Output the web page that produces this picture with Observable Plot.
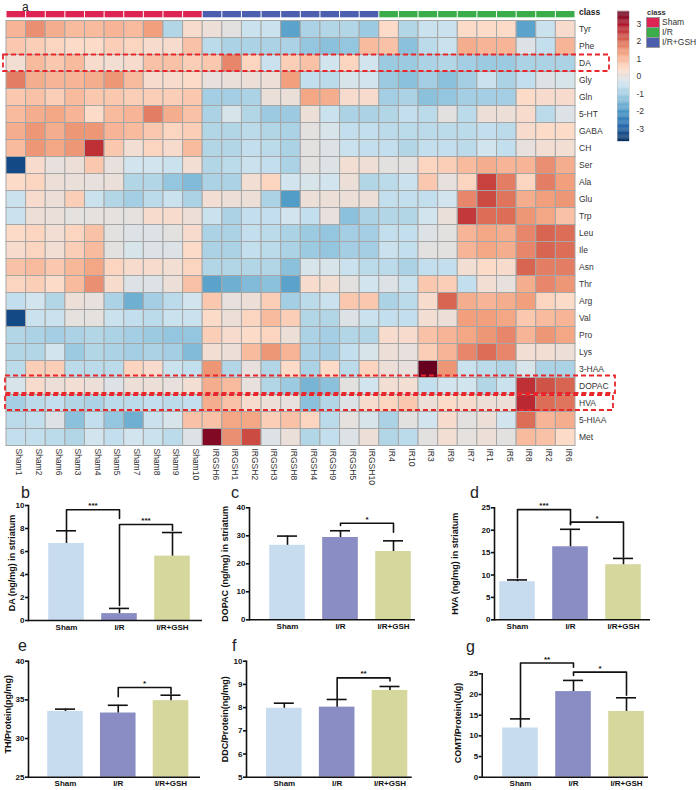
<!DOCTYPE html>
<html><head><meta charset="utf-8">
<script src="https://cdn.jsdelivr.net/npm/d3@7"></script>
<script src="https://cdn.jsdelivr.net/npm/@observablehq/plot@0.6"></script>
<style>
body{margin:0;background:#fff;font-family:"Liberation Sans",Arial,Helvetica,sans-serif;}
#root{position:relative;width:700px;height:790px;overflow:hidden;background:#fff;}
.letter{position:absolute;font-size:16px;line-height:18px;color:#222;}
.bar line,.bar path{stroke-width:1.6px;}
.leg{position:absolute;font-size:8px;color:#333;line-height:10px;}
.sw{position:absolute;width:12px;height:9px;border:0.5px solid #999;}
</style></head><body><div id="root"></div>
<script>
const FONT = '"Liberation Sans", Arial, Helvetica, sans-serif';

// ---------- heatmap data ----------
const cols = ["Sham1","Sham2","Sham6","Sham3","Sham4","Sham5","Sham7","Sham8","Sham9","Sham10",
  "IRGSH6","IRGSH1","IRGSH2","IRGSH3","IRGSH8","IRGSH4","IRGSH9","IRGSH5","IRGSH10",
  "IR4","IR10","IR3","IR9","IR7","IR1","IR5","IR8","IR2","IR6"];
const rows = ["Tyr","Phe","DA","Gly","Gln","5-HT","GABA","CH","Ser","Ala","Glu","Trp","Leu","Ile",
  "Asn","Thr","Arg","Val","Pro","Lys","3-HAA","DOPAC","HVA","5-HIAA","Met"];
const heat = [
/*Tyr*/ [1.0,1.5,1.1,0.9,0.9,1.0,0.9,1.3,-0.8,0.3, 0.1,-0.1,-0.5,-0.5,-1.8,-0.9,-0.8,-0.8,-1.1, 0.4,-0.8,-0.5,-0.5,0.4,0.4,0.4,-1.8,-0.5,0.3],
/*Phe*/ [0.7,0.6,0.5,0.4,0.4,0.6,0.5,0.3,0.3,0.8, -0.7,-0.9,-0.9,-0.9,-0.9,-1.2,-1.3,-1.2,0.9, 0.8,-1.3,-0.7,-0.5,1.1,1.0,1.0,-0.2,-0.6,1.0],
/*DA*/  [0.2,0.9,0.7,0.9,0.3,0.2,0.3,0.8,0.8,0.6, 0.7,1.6,0.5,-0.5,0.6,0.8,-0.4,0.5,-0.4, -1.1,-1.1,-0.9,-0.8,-1.0,-1.1,-1.1,-0.9,-0.9,-0.9],
/*Gly*/ [1.7,1.1,1.0,1.0,1.1,1.4,0.9,0.3,0.3,0.4, 0.0,0.05,0.1,0.1,1.3,-0.6,-0.7,-0.3,-0.4, -1.1,-1.3,-1.0,-1.3,-1.0,-0.5,-0.9,-0.6,-0.2,-0.3],
/*Gln*/ [0.7,0.8,0.6,0.9,0.7,0.7,0.6,0.6,0.6,0.7, -1.0,-1.0,-0.9,0.05,0.05,1.2,1.1,0.3,0.3, -1.0,-0.9,-1.3,-1.2,-1.0,-1.0,-1.0,0.4,0.3,0.3],
/*5-HT*/[0.9,1.1,1.2,1.0,0.4,0.9,1.0,1.7,1.1,0.8, -0.9,-0.3,-0.8,-1.1,-1.1,0.1,-0.5,-0.9,-0.9, -0.8,-0.6,-0.7,-0.1,-0.7,0.1,0.1,0.3,-0.7,-0.2],
/*GABA*/[1.1,1.4,1.1,1.4,1.4,1.0,0.9,0.7,0.5,0.6, -0.8,-0.8,-0.7,-0.8,-0.9,-0.1,-0.3,-0.6,-0.6, -0.7,-0.7,-0.7,-0.7,-0.7,-0.6,-0.7,0.3,0.4,0.4],
/*CH*/  [0.9,1.4,1.2,1.4,2.6,0.7,0.2,0.5,0.3,0.9, -0.8,-0.8,-0.6,-0.7,-0.9,-0.1,-0.2,-0.5,-0.6, -0.6,-0.8,-0.6,-0.6,-0.7,-0.4,-0.6,0.0,0.2,0.2],
/*Ser*/ [-3.3,0.3,0.0,0.1,0.7,0.0,-0.4,-0.4,-0.5,0.2, -0.8,-0.7,-0.5,-0.6,-0.9,-0.1,-0.2,0.2,0.15, -0.1,-0.1,0.5,0.6,0.9,1.1,1.0,1.0,1.5,1.1],
/*Ala*/ [0.4,0.5,0.1,0.05,0.0,0.05,-0.8,-0.8,-1.2,-1.4, -0.9,-0.9,0.2,0.5,-0.4,-0.3,-0.4,0.1,-0.8, -0.7,-0.5,0.7,0.0,0.5,2.4,1.7,0.5,1.7,1.3],
/*Glu*/ [-0.5,0.3,0.1,0.6,-0.5,-0.8,-1.0,-0.7,-0.5,-0.9, 0.2,0.1,0.1,-0.9,-1.9,0.1,0.1,0.1,0.1, -0.6,-0.6,-0.6,-0.4,1.6,2.3,1.8,1.1,1.3,1.4],
/*Trp*/ [-0.5,0.1,0.05,-0.05,-0.05,-0.05,-0.05,0.3,0.3,0.1, -0.5,-0.9,-0.6,-0.6,-0.4,-0.6,0.0,-1.3,-0.9, -0.8,-0.8,-0.4,0.05,2.5,1.9,1.9,1.4,1.2,0.8],
/*Leu*/ [0.4,0.5,0.2,0.5,0.8,-0.1,-0.2,-0.2,-0.1,0.3, -0.9,-0.9,-0.6,-0.7,-0.9,-1.1,-1.2,-1.0,-1.0, -0.6,-0.6,-0.2,-0.1,1.0,1.2,1.1,1.6,2.0,1.9],
/*Ile*/ [0.3,0.5,0.2,0.6,0.9,-0.1,-0.3,-0.2,-0.2,0.4, -0.9,-0.9,-0.6,-0.7,-0.9,-1.1,-1.2,-1.0,-1.0, -0.5,-0.6,-0.1,-0.1,1.0,1.2,1.1,1.6,2.0,1.9],
/*Asn*/ [0.8,0.9,0.7,0.95,1.2,0.5,0.3,0.3,0.2,0.5, -0.8,-0.8,-0.8,-0.8,-1.3,-0.3,-0.3,-0.5,-0.7, -0.7,-0.9,-0.6,-0.6,0.2,0.4,0.3,2.0,1.7,1.7],
/*Thr*/ [0.5,0.6,0.4,0.9,1.5,0.3,-0.2,-0.2,0.1,0.8, -1.8,-1.6,-1.4,-1.3,-1.8,0.3,0.2,-0.1,-0.4, -0.2,-0.5,0.7,0.6,-0.6,0.2,0.0,1.1,1.6,1.4],
/*Arg*/ [-0.6,-0.4,-0.8,0.1,0.0,-0.9,-1.6,-1.0,-0.7,-0.4, 0.7,0.0,0.1,0.6,-1.0,-0.7,-0.5,0.7,0.7, -0.9,-0.7,0.3,2.0,1.1,1.0,1.1,1.3,0.5,0.4],
/*Val*/ [-3.3,-0.5,-0.5,-0.05,-0.05,-0.5,-0.6,-0.7,-0.5,-0.5, 0.4,0.1,0.5,0.9,0.6,-0.8,-0.8,-0.2,-0.5, -0.6,-0.6,0.2,0.1,1.3,1.3,1.2,0.7,0.9,1.0],
/*Pro*/ [-0.8,-0.9,-1.0,-0.9,-0.8,-0.9,-1.0,-1.1,-1.2,-1.2, 0.6,0.3,0.4,0.5,0.1,-0.9,-1.0,-0.8,-0.8, 0.3,0.3,0.8,1.0,1.2,1.4,1.6,1.0,1.4,1.2],
/*Lys*/ [-0.8,-0.8,-0.4,-1.1,-0.8,-0.9,-1.0,-0.9,-1.0,-1.4, 0.2,0.1,0.9,1.4,1.0,-0.9,-1.0,-0.6,-0.3, 0.1,0.0,0.6,1.0,1.6,1.9,1.6,0.2,0.2,0.1],
/*3-HAA*/[-0.7,0.6,0.6,-0.7,-0.7,-0.7,0.5,0.3,-0.5,-0.6, 1.4,-0.8,0.0,-0.8,0.4,-0.9,0.4,-0.7,0.5, 0.1,0.0,3.7,1.4,-0.5,-0.7,-0.8,-0.3,-0.9,-0.9],
/*DOPAC*/[-0.3,0.3,0.1,0.2,0.1,-0.2,0.1,0.1,0.0,0.2, 1.1,0.9,0.0,-0.8,-1.1,-1.5,-1.3,-0.1,-0.4, 0.2,0.2,-0.6,-0.4,-0.4,-0.8,-0.5,2.6,2.2,2.0],
/*HVA*/ [-1.0,-0.7,-0.6,-0.8,-0.9,-0.7,-0.7,-0.6,-0.7,-0.6, 1.1,0.8,0.3,0.1,0.0,-1.3,-0.8,-0.2,0.3, 0.5,0.7,0.1,0.4,0.3,0.1,0.1,2.7,1.9,1.8],
/*5-HIAA*/[-0.7,-0.6,-0.2,-1.3,-0.6,-1.2,-1.6,-0.5,-0.3,0.8, 0.8,1.2,1.2,0.6,0.8,0.5,-0.7,-0.05,-0.3, -0.9,-0.1,-0.4,0.3,-0.1,0.1,-0.4,1.9,1.0,1.1],
/*Met*/ [-0.6,-0.6,-0.7,-0.8,-0.4,-0.6,-0.4,-0.5,-0.7,-0.2, 3.4,1.5,2.3,-0.2,0.05,-0.8,-0.6,-0.2,0.1, -0.8,-0.7,-0.1,0.2,-0.05,0.1,-0.1,0.9,0.8,0.4]
];
const classNames = ["Sham","I/R","I/R+GSH"];
const classColors = ["#dc2454","#3aad4a","#4b5fae"];
const classOf = c => c.startsWith("Sham") ? "Sham" : c.startsWith("IRGSH") ? "I/R+GSH" : "I/R";
const boxedRows = ["DA","DOPAC","HVA"];
const legendTicks = [-3,-2,-1,0,1,2,3];

// ---------- bar chart data ----------
const groups = ["Sham","I/R","I/R+GSH"];
const groupColors = ["#c8dcf0","#8a8dc3","#d6d79c"];
const daMean = [6.7, 0.6, 5.6],      daSD = [1.1, 0.45, 2.05];
const dopacMean = [26.6, 29.4, 24.4], dopacSD = [3.3, 2.4, 3.8];
const hvaMean = [8.5, 16.3, 12.3],    hvaSD = [0.4, 3.9, 1.4];
const thMean = [33.5, 33.3, 34.9],    thSD = [0.3, 1.0, 0.7];
const ddcMean = [7.97, 8.02, 8.74],   ddcSD = [0.22, 0.33, 0.17];
const comtMean = [11.9, 20.7, 15.9],  comtSD = [2.2, 2.7, 3.3];
const daSig = [{a:"Sham",b:"I/R",y:9.63,ya:7.9,yb:8.87,label:"***"},{a:"I/R",b:"I/R+GSH",y:8.35,ya:1.3,yb:7.83,label:"***"}];
const dopacSig = [{a:"I/R",b:"I/R+GSH",y:34.5,ya:33.7,yb:31.3,label:"*"}];
const hvaSig = [{a:"Sham",b:"I/R",y:24.6,ya:9.4,yb:21.4,label:"***"},{a:"I/R",b:"I/R+GSH",y:21.8,ya:21.2,yb:14.0,label:"*"}];
const thSig = [{a:"I/R",b:"I/R+GSH",y:36.6,ya:35.4,yb:35.8,label:"*"}];
const ddcSig = [{a:"I/R",b:"I/R+GSH",y:9.28,ya:8.38,yb:9.15,label:"**"}];
const comtSig = [{a:"Sham",b:"I/R",y:27.6,ya:14.1,yb:26.6,label:"**"},{a:"I/R",b:"I/R+GSH",y:25.4,ya:24.6,yb:19.8,label:"*"}];

// ---------- helpers ----------
const root = document.getElementById("root");
function place(node, left, top) {
  node.style.position = "absolute"; node.style.left = left + "px"; node.style.top = top + "px";
  root.appendChild(node); return node;
}
function html(cls, text, left, top, extra = {}) {
  const d = document.createElement("div"); d.className = cls; d.textContent = text;
  Object.assign(d.style, extra); return place(d, left, top);
}
const rdbu10 = ["#053061","#2166AC","#4393C3","#92C5DE","#D1E5F0","#FDDBC7","#F4A582","#D6604D","#B2182B","#67001F"];
const heatInterp = d3.piecewise(d3.interpolateRgb, rdbu10);
const colorScale = {type: "linear", domain: [-3.7, 3.7], interpolate: heatInterp};

// ---------- heatmap ----------
const cellData = rows.flatMap((r, i) => cols.map((c, j) => ({row: r, col: c, v: heat[i][j]})));
const boxInsets = {DA: [-3, -34, 0, 0.5], DOPAC: [-1, -40, -2, 1.5], HVA: [-1, -38, 0.5, 1.5]};
const heatPlot = Plot.plot({
  width: 620, height: 490,
  marginLeft: 6, marginRight: 45, marginTop: 3.5, marginBottom: 44.5,
  x: {domain: cols, axis: null, padding: 0, round: false},
  y: {domain: ["class", ...rows], axis: null, padding: 0, round: false},
  color: colorScale,
  style: {fontFamily: FONT, fontSize: "8.5px", color: "#333", background: "none", overflow: "visible"},
  marks: [
    Plot.cell(cellData, {x: "col", y: "row", fill: "v", stroke: "#a6a6a6", strokeWidth: 1}),
    ...classNames.map((g, k) => Plot.cell(cols.filter(c => classOf(c) === g),
      {x: d => d, y: () => "class", fill: classColors[k], insetTop: 7.5, insetBottom: 3.2, insetLeft: 0.5, insetRight: 0.5})),
    Plot.text(rows, {y: d => d, text: d => d, frameAnchor: "right", textAnchor: "start", dx: 3.5, fill: "#333"}),
    Plot.text(["class"], {y: d => d, text: d => d, frameAnchor: "right", textAnchor: "start", dx: 3.5, fontWeight: "bold", fill: "#222"}),
    Plot.text(cols, {x: d => d, text: d => d, frameAnchor: "bottom", rotate: 90, textAnchor: "start", dy: 2.5, fill: "#333"}),
    ...boxedRows.map(r => Plot.cell([r], {y: d => d, fill: "none", stroke: "#e8262b", strokeWidth: 1.8,
      strokeDasharray: "5,3", insetLeft: boxInsets[r][0], insetRight: boxInsets[r][1],
      insetTop: boxInsets[r][2], insetBottom: boxInsets[r][3]}))
  ]
});
place(heatPlot, 0, 0);

// colour bar legend
const gradSteps = d3.range(-3.7, 3.7, 0.05);
const cbar = Plot.plot({
  width: 45, height: 150, marginLeft: 5, marginRight: 28, marginTop: 11, marginBottom: 9,
  x: {domain: [0, 1], axis: null},
  y: {domain: [-3.7, 3.7], axis: "right", ticks: legendTicks.length, tickSize: 0, tickPadding: 7, label: null, tickFormat: d => String(d)},
  color: colorScale,
  style: {fontFamily: FONT, fontSize: "8.5px", color: "#333", background: "none", overflow: "visible"},
  marks: [
    Plot.rect(gradSteps, {x1: () => 0, x2: () => 1, y1: d => d, y2: d => d + 0.06, fill: d => d}),
    Plot.frame({stroke: "#bbb", strokeWidth: 0.5})
  ]
});
place(cbar, 612, 0);

// class legend
html("leg", "class", 647, 8, {fontWeight: "bold", fontSize: "7.5px"});
classNames.forEach((g, k) => {
  const s = document.createElement("div"); s.className = "sw"; s.style.background = classColors[k];
  place(s, 646, 17 + k * 10);
  html("leg", g, 662, 16.5 + k * 10, {fontSize: "8.5px"});
});
html("letter", "a", 22, 0, {fontSize: "12px", lineHeight: "14px"});

// ---------- bar panels ----------
// geo: svg box (left, top, w, h), frame (x0..x1, y0..y1), bar centres c1/c3 and bar width bw (pixels)
function barPanel(mean, sd, sig, title, domain, nTicks, geo, tx, tdy) {
  const tbl = groups.map((g, i) => ({g, mean: mean[i], top: mean[i] + sd[i], base: domain[0]}));
  const {left, top, w, h, x0, x1, y0, y1, c1, c3, bw} = geo;
  const step = (c3 - c1) / 2;
  const pad = 1 - bw / step;
  const inL = (c1 - bw / 2 - pad * step) - x0;
  const inR = x1 - (c3 + bw / 2 + pad * step);
  const capIn = (bw - 20) / 2;
  const pts = sig.flatMap((s, k) => [{k, x: s.a, y: s.ya}, {k, x: s.a, y: s.y}, {k, x: s.b, y: s.y}, {k, x: s.b, y: s.yb}]);
  const p = Plot.plot({
    width: w, height: h,
    marginLeft: x0 - left, marginRight: left + w - x1, marginTop: y0 - top, marginBottom: top + h - y1,
    x: {domain: groups, padding: pad, insetLeft: inL, insetRight: inR, round: false, tickSize: 0, tickPadding: 3.5, label: null},
    y: {domain, ticks: nTicks, tickSize: 3, tickPadding: 1, line: true, label: null},
    style: {fontFamily: FONT, fontSize: "8px", fontWeight: "bold", color: "#111", background: "none", overflow: "visible"},
    marks: [
      ...groups.map((g, i) => Plot.barY([tbl[i]], {x: "g", y1: "base", y2: "mean", fill: groupColors[i]})),
      Plot.ruleX(tbl, {x: "g", y1: "mean", y2: "top", stroke: "#111", strokeWidth: 1.6}),
      Plot.tickY(tbl, {x: "g", y: "top", stroke: "#111", strokeWidth: 1.6, insetLeft: capIn, insetRight: capIn}),
      Plot.ruleY([domain[0]], {stroke: "#111", strokeWidth: 1.6}),
      Plot.line(pts, {x: "x", y: "y", z: "k", stroke: "#111", strokeWidth: 1.6}),
      Plot.text(sig, {x: "a", y: "y", text: "label", dx: step / 2, dy: -4, fontWeight: "bold", fontSize: 8, fill: "#111"}),
      Plot.text([title], {text: d => d, frameAnchor: "left", textAnchor: "middle", rotate: -90, dx: tx - x0, dy: tdy, fontWeight: "bold", fontSize: 9, fill: "#111"})
    ]
  });
  p.classList.add("bar");
  place(p, left, top);
}

barPanel(daMean, daSD, daSig, "DA (ng/mg) in striatum", [0, 10], 5,
  {left: 0, top: 488, w: 215, h: 152, x0: 28, x1: 202, y0: 505, y1: 620, c1: 66, c3: 172, bw: 35.6}, 12, 0);
barPanel(dopacMean, dopacSD, dopacSig, "DOPAC (ng/mg) in striatum", [0, 40], 4,
  {left: 205, top: 488, w: 230, h: 152, x0: 249, x1: 415, y0: 507.3, y1: 619.3, c1: 287, c3: 393, bw: 35.6}, 225, 0);
barPanel(hvaMean, hvaSD, hvaSig, "HVA (ng/mg) in striatum", [0, 25], 5,
  {left: 440, top: 488, w: 260, h: 152, x0: 494, x1: 650, y0: 507.3, y1: 619.3, c1: 517, c3: 623, bw: 35.6}, 455, 0);
barPanel(thMean, thSD, thSig, "TH/Protein(pg/mg)", [25, 40], 3,
  {left: 0, top: 640, w: 215, h: 150, x0: 28, x1: 200, y0: 660.7, y1: 776.7, c1: 65, c3: 170.5, bw: 35.6}, 7.5, -5);
barPanel(ddcMean, ddcSD, ddcSig, "DDC/Protein(ng/mg)", [5, 10], 5,
  {left: 205, top: 640, w: 230, h: 150, x0: 246, x1: 411.7, y0: 660.7, y1: 776.7, c1: 283.8, c3: 389.5, bw: 35.6}, 224.2, 0);
barPanel(comtMean, comtSD, comtSig, "COMT/Protein(U/g)", [0, 25], 5,
  {left: 440, top: 640, w: 260, h: 150, x0: 481.7, x1: 648, y0: 673.3, y1: 776.7, c1: 520, c3: 626, bw: 35.6}, 457.5, -2.5);

html("letter", "b", 21, 484);
html("letter", "c", 231, 484);
html("letter", "d", 470, 484);
html("letter", "e", 18, 637);
html("letter", "f", 232, 637);
html("letter", "g", 466, 638);
</script></body></html>
